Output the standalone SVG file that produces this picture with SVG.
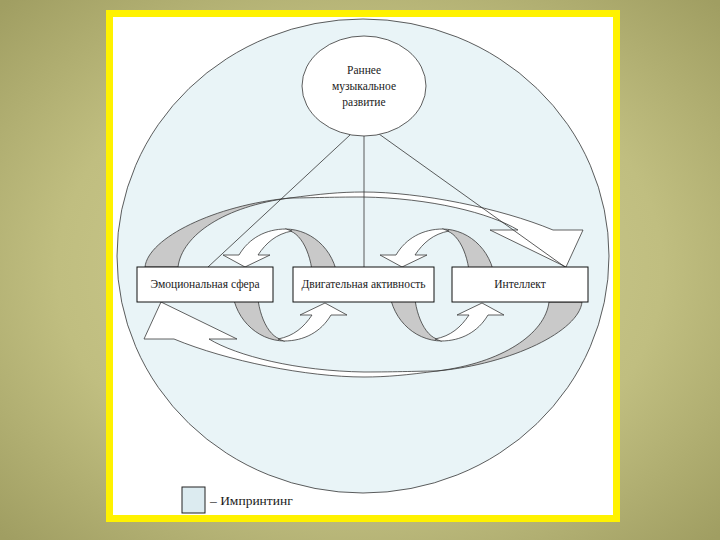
<svg xmlns="http://www.w3.org/2000/svg" xmlns:xlink="http://www.w3.org/1999/xlink" width="720" height="540" viewBox="0 0 720 540">
<style>
.ol{stroke:#3a3a3a;stroke-width:0.8;stroke-linejoin:round}
.gr{fill:#c9c9c9}
.wh{fill:#ffffff}
.box{fill:#ffffff;stroke:#111;stroke-width:1}
.ln{stroke:#333;stroke-width:0.8;fill:none}
</style>
<defs>
<radialGradient id="bg" cx="50%" cy="50%" r="70%">
<stop offset="0" stop-color="#d2d094"/>
<stop offset="0.6" stop-color="#c0be80"/>
<stop offset="1" stop-color="#a09e62"/>
</radialGradient>
<g id="loopHalf">
<path class="gr ol" d="M285,229 C314.3,229 338,254.1 338,285 L313,285 C313,254.6 300.5,230 285,230 Z"/>
<path class="wh ol" d="M286,229 C266,229 249,238 239,255 L223,255 L245,267 L270,255 L258,255 C266,243 276,234 292,231 Z"/>
</g>
<g id="loopShape">
<use xlink:href="#loopHalf"/>
<use xlink:href="#loopHalf" transform="rotate(180 285 285)"/>
</g>
<g id="bigArrowShape">
<path class="gr ol" d="M145,267 C148,238 215,205 290,198 C225,206 182,235 178,267 Z"/>
<path class="wh ol" d="M290,198 C320,194 340,192 363,192 C420,192 500,208 553,230 L583,230 L566,267 L490,230 L518,230 C490,213 430,198 363,197 C330,197 305,198 290,198 Z"/>
</g>
</defs>
<rect width="720" height="540" fill="url(#bg)"/>
<rect x="109.5" y="13.5" width="507" height="505" fill="#ffffff" stroke="#fff200" stroke-width="7"/>
<g id="imprinting-field">
<ellipse cx="363" cy="256" rx="246" ry="237" fill="#e9f4f7" stroke="#333" stroke-width="0.8"/>
</g>
<g id="arrow-top"><use xlink:href="#bigArrowShape"/></g>
<g id="arrow-bottom"><use xlink:href="#bigArrowShape" transform="rotate(180 363.5 284.5)"/></g>
<g id="loop-left"><use xlink:href="#loopShape"/></g>
<g id="loop-right"><use xlink:href="#loopShape" transform="translate(157 0)"/></g>
<g id="connectors">
<line class="ln" x1="350" y1="135" x2="208" y2="267"/>
<line class="ln" x1="364" y1="136" x2="364" y2="267"/>
<line class="ln" x1="379" y1="134" x2="565" y2="267"/>
</g>
<g font-family="'Liberation Serif','Times New Roman',serif" fill="#1a1a1a" text-anchor="middle">
<g id="node-early">
<ellipse cx="364" cy="86" rx="62" ry="50" fill="#ffffff" stroke="#333" stroke-width="0.8"/>
<text x="364" y="74" font-size="11.5">Раннее</text>
<text x="364" y="90" font-size="11.5">музыкальное</text>
<text x="364" y="106" font-size="11.5">развитие</text>
</g>
<g id="node-emotion">
<rect class="box" x="137" y="267" width="136" height="35"/>
<text x="205" y="288" font-size="11.5">Эмоциональная сфера</text>
</g>
<g id="node-motor">
<rect class="box" x="293" y="267" width="141" height="35"/>
<text x="363.5" y="288" font-size="11.5">Двигательная активность</text>
</g>
<g id="node-intellect">
<rect class="box" x="452" y="267" width="136" height="35"/>
<text x="520" y="288" font-size="11.5">Интеллект</text>
</g>
</g>
<g id="legend">
<rect x="182" y="487" width="23" height="26" fill="#dcebf0" stroke="#222" stroke-width="1"/>
<text x="210" y="505" font-size="13.5" font-family="'Liberation Serif','Times New Roman',serif" fill="#1a1a1a">– Импринтинг</text>
</g>
</svg>
